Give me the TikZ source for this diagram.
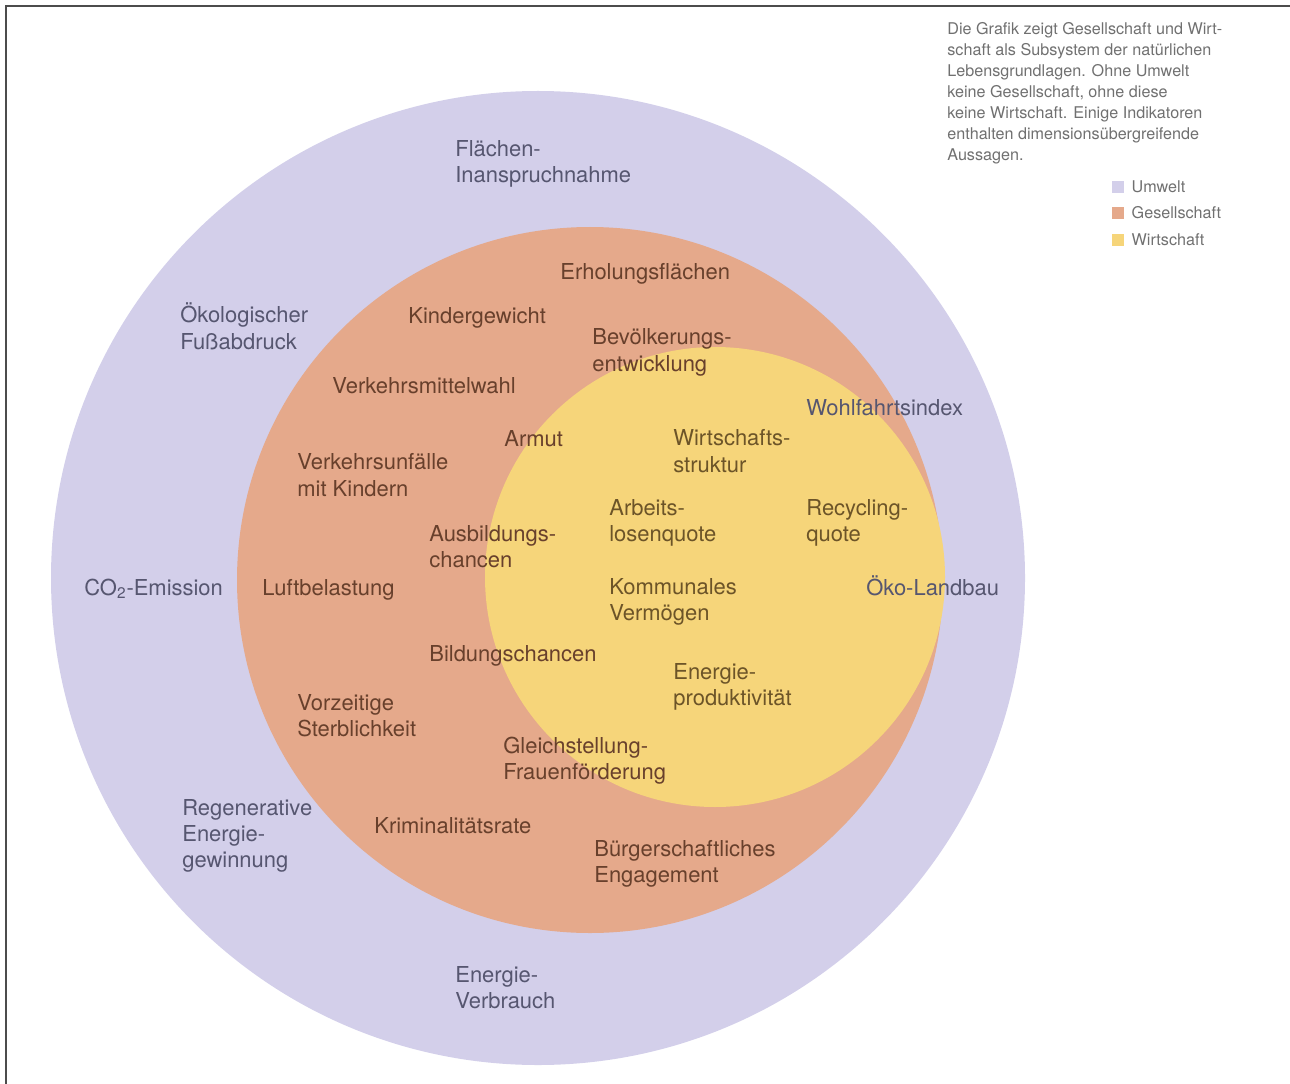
\documentclass[tikz,border=0pt]{standalone}
\usepackage{fontspec}
\setmainfont{TeX Gyre Heros}
\usetikzlibrary{positioning}
\definecolor{umwelt}{RGB}{211,207,234}
\definecolor{gesell}{RGB}{229,169,139}
\definecolor{wirt}{RGB}{246,213,122}
\definecolor{txtu}{RGB}{86,86,112}
\definecolor{txtg}{RGB}{104,64,44}
\definecolor{txtw}{RGB}{108,84,40}
\definecolor{txtl}{RGB}{112,112,112}

\begin{document}
\begin{tikzpicture}[x=0.02cm,y=-0.02cm]
	\tikzset{
		ind/.style={%
		     inner sep=0pt,
		     anchor=base west,
		     align=left,
		     font=\fontsize{12.5pt}{14.8pt}\selectfont},
		legsq/.style={%
		     fill=#1,
		     minimum size=0.24cm,
		     inner sep=0pt}
	}

	\tikzstyle{ind_u} = [ind, text=txtu]
	\tikzstyle{ind_g} = [ind, text=txtg]
	\tikzstyle{ind_w} = [ind, text=txtw]

	\useasboundingbox (0,0) rectangle (1290,1084);
	\draw[black!70, line width=1.1pt] (6,1084) -- (6,6) -- (1290,6);

	% the three circles
	\fill[umwelt] (538,578) circle (487);
	\fill[gesell] (590,580) circle (353);
	\fill[wirt] (715,577) circle (230);

	% Umwelt (base = last line)
	\node[ind_u] (flaeche) at (455,183) {Flächen-\\Inanspruchnahme};
	\node[ind_u] (fuss) at (180,349) {Ökologischer\\Fußabdruck};
	\node[ind_u] (co2) at (84,595) {CO\textsubscript{2}-Emission};
	\node[ind_u] (regen) at (182,867) {Regenerative\\Energie-\\gewinnung};
	\node[ind_u] (verbrauch) at (455,1008) {Energie-\\Verbrauch};
	\node[ind_u] (landbau) at (866,595) {Öko-Landbau};
	\node[ind_u] (wohlfahrt) at (806,415) {Wohlfahrtsindex};

	% Gesellschaft
	\node[ind_g] (erholung) at (560,279) {Erholungsflächen};
	\node[ind_g] (kinder) at (408,323) {Kindergewicht};
	\node[ind_g] (bevoelk) at (592,371) {Bevölkerungs-\\entwicklung};
	\node[ind_g] (verkehr) at (332,393) {Verkehrsmittelwahl};
	\node[ind_g] (armut) at (504,446) {Armut};
	\node[ind_g] (unfall) at (297,496) {Verkehrsunfälle\\mit Kindern};
	\node[ind_g] (ausbild) at (429,567) {Ausbildungs-\\chancen};
	\node[ind_g] (luft) at (262,595) {Luftbelastung};
	\node[ind_g] (bildung) at (429,661) {Bildungschancen};
	\node[ind_g] (sterb) at (297,736) {Vorzeitige\\Sterblichkeit};
	\node[ind_g] (gleich) at (503,779) {Gleichstellung-\\Frauenförderung};
	\node[ind_g] (krimi) at (374,833) {Kriminalitätsrate};
	\node[ind_g] (buerger) at (594,882) {Bürgerschaftliches\\Engagement};

	% Wirtschaft
	\node[ind_w] (struktur) at (673,472) {Wirtschafts-\\struktur};
	\node[ind_w] (arbeit) at (609,541) {Arbeits-\\losenquote};
	\node[ind_w] (recycl) at (806,541) {Recycling-\\quote};
	\node[ind_w] (kommun) at (609,620) {Kommunales\\Vermögen};
	\node[ind_w] (prod) at (673,705) {Energie-\\produktivität};

	% legend
	\node[anchor=base west, inner sep=0pt, align=left, text=txtl,
	      font=\fontsize{9.2pt}{12pt}\selectfont] (info) at (947,161)
	      {Die Grafik zeigt Gesellschaft und Wirt-\\schaft als Subsystem der natürlichen\\Lebensgrundlagen. Ohne Umwelt\\keine Gesellschaft, ohne diese\\keine Wirtschaft. Einige Indikatoren\\enthalten dimensionsübergreifende\\Aussagen.};
	\node[legsq=umwelt] (sq_u) at (1118,187) {};
	\node[legsq=gesell] (sq_g) at (1118,213) {};
	\node[legsq=wirt] (sq_w) at (1118,240) {};
	\node[right=0.14cm of sq_u, inner sep=0pt, text=txtl, font=\fontsize{9.2pt}{12pt}\selectfont] (leg_u) {Umwelt};
	\node[right=0.14cm of sq_g, inner sep=0pt, text=txtl, font=\fontsize{9.2pt}{12pt}\selectfont] (leg_g) {Gesellschaft};
	\node[right=0.14cm of sq_w, inner sep=0pt, text=txtl, font=\fontsize{9.2pt}{12pt}\selectfont] (leg_w) {Wirtschaft};

\end{tikzpicture}
\end{document}
